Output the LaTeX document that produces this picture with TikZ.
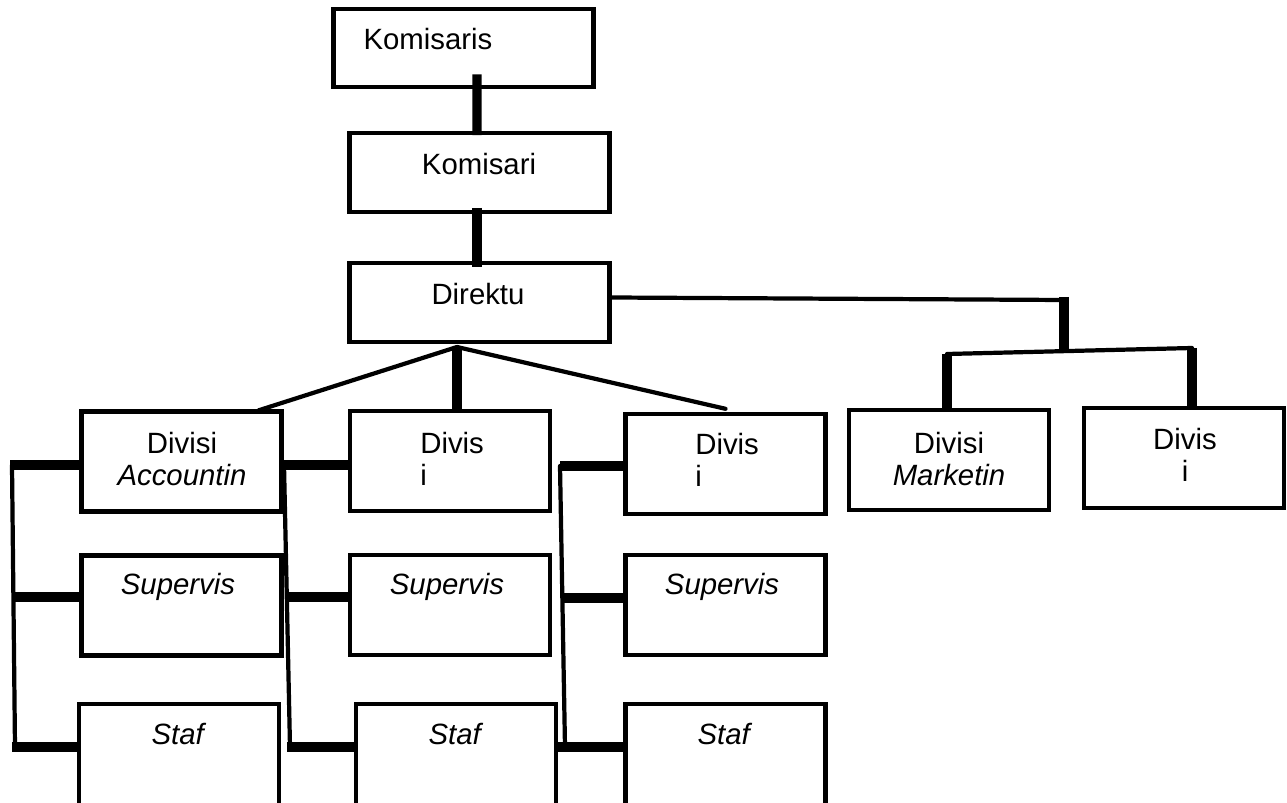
\documentclass[tikz,border=0pt]{standalone}
\usepackage{fontspec}
\setmainfont{Liberation Sans}
\usetikzlibrary{calc}

\begin{document}
\begin{tikzpicture}[x=0.02cm, y=0.02cm,
    unit/.style={draw, line width=2.5pt, inner sep=0pt, minimum width=4cm, minimum height=2cm},
    head/.style={unit, minimum width=5.2cm, minimum height=1.57cm},
    tall/.style={unit, minimum height=2.2cm},
    txt/.style={inner sep=0pt, font=\fontsize{16.7}{18}\selectfont},
    heavy/.style={line width=5.2pt},
    slim/.style={line width=2.4pt, line cap=round}]
                \useasboundingbox (0,0) rectangle (1287,-803);
                \clip (0,0) rectangle (1287,-803);

                % Top of the chart
                \node[head] (kms) at (463.5,-48) {};
                \node[head] (kmr) at (479.5,-172.5) {};
                \node[head] (dir) at (479.5,-302.5) {};
                \node[txt, anchor=base] (kmsT) at (428,-50) {Komisaris};
                \node[txt, anchor=base] (kmrT) at (479,-175) {Komisari};
                \node[txt, anchor=base] (dirT) at (478,-305) {Direktu};

                % Divisions
                \node[unit] (acc) at (181.5,-461.5) {};
                \node[unit] (dv2) at (450,-461) {};
                \node[unit] (dv3) at (725.5,-464) {};
                \node[unit] (mkt) at (949,-460) {};
                \node[unit] (dv5) at (1184,-458) {};
                \node[txt, anchor=north, align=center] (accT) at (182,-432) {Divisi\\\textit{Accountin}};
                \node[txt, anchor=north west, align=left] (dv2T) at (420,-432) {Divis\\i};
                \node[txt, anchor=north west, align=left] (dv3T) at (695,-433) {Divis\\i};
                \node[txt, anchor=north, align=center] (mktT) at (949,-432) {Divisi\\\textit{Marketin}};
                \node[txt, anchor=north, align=center] (dv5T) at (1185,-428) {Divis\\i};

                % Supervisors and staff
                \node[unit] (sup1) at (181.5,-605.5) {};
                \node[unit] (sup2) at (450,-605) {};
                \node[unit] (sup3) at (725.5,-605) {};
                \node[tall] (stf1) at (179,-759) {};
                \node[tall] (stf2) at (456,-759) {};
                \node[tall] (stf3) at (725.5,-759) {};
                \node[txt, anchor=base] (sup1T) at (178,-594) {\textit{Supervis}};
                \node[txt, anchor=base] (sup2T) at (447,-594) {\textit{Supervis}};
                \node[txt, anchor=base] (sup3T) at (722,-594) {\textit{Supervis}};
                \node[txt, anchor=base] (stf1T) at (179,-744) {\textit{Staf}};
                \node[txt, anchor=base] (stf2T) at (456,-744) {\textit{Staf}};
                \node[txt, anchor=base] (stf3T) at (725,-744) {\textit{Staf}};

                % Branch points
                \coordinate (fork) at (457,-347);
                \coordinate (tap) at (1064,-300);
                \coordinate (split) at (1064,-352);
                \coordinate (lftk) at (947,-354);
                \coordinate (rgtk) at (1192,-348);

                % Main line
                \draw[heavy] ($(kms.south)+(13.5,15)$) -- ($(kmr.north)+(-2.5,-4)$);
                \draw[heavy] ($(kmr.south)+(-2.5,6)$) -- ($(dir.north)+(-2.5,-6)$);
                \draw[heavy] (fork) -- (fork |- dv2.north);
                \draw[slim] (fork) -- ($(acc.north east)+(-25,-1)$);
                \draw[slim] (fork) -- ($(dv3.north)+(0,3)$);

                % Right branch
                \draw[slim] ($(dir.east)+(0,5)$) -- (tap);
                \draw[heavy] ($(tap)+(0,3)$) -- (split);
                \draw[slim] (lftk) -- (rgtk);
                \draw[heavy] (lftk) -- (lftk |- mkt.north);
                \draw[heavy] (rgtk) -- (rgtk |- dv5.north);

                % Brackets to the rows
                \coordinate (b1a) at (12,-465);
                \coordinate (b1b) at (13.5,-597);
                \coordinate (b1c) at (15,-747);
                \draw[slim] (b1a) -- (b1c);
                \draw[heavy] ($(b1a)+(-2,0)$) -- (b1a -| acc.west);
                \draw[heavy] (b1b) -- (b1b -| sup1.west);
                \draw[heavy] ($(b1c)+(-3,0)$) -- (b1c -| stf1.west);

                \coordinate (b2a) at (284,-465);
                \coordinate (b2b) at (287,-597);
                \coordinate (b2c) at (290,-747);
                \draw[slim] (b2a) -- (b2c);
                \draw[heavy] (b2a) -- (b2a -| dv2.west);
                \draw[heavy] (b2b) -- (b2b -| sup2.west);
                \draw[heavy] ($(b2c)+(-3,0)$) -- (b2c -| stf2.west);

                \coordinate (b3a) at (560,-466);
                \coordinate (b3b) at (562.5,-598);
                \coordinate (b3c) at (565,-747);
                \draw[slim] (b3a) -- (b3c);
                \draw[heavy] (b3a) -- (b3a -| dv3.west);
                \draw[heavy] (b3b) -- (b3b -| sup3.west);
                \draw[heavy] ($(b3c)+(-7,0)$) -- (b3c -| stf3.west);
\end{tikzpicture}
\end{document}
